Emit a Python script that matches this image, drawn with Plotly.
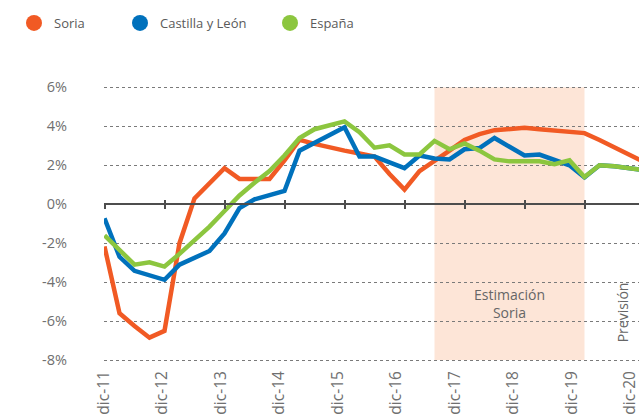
import plotly.graph_objects as go

# Quarterly data, dic-11 .. dic-20 (index 0..36)
quarters = list(range(37))
soria = [-2.17, -5.6, -6.25, -6.85, -6.5, -2.0, 0.3, 1.05, 1.85, 1.3,
         1.3, 1.3, 2.25, 3.3, 3.1, 2.9, 2.75, 2.6, 2.45, 1.55,
         0.75, 1.7, 2.2, 2.75, 3.3, 3.6, 3.8, 3.88, 3.92, 3.85,
         3.78, 3.72, 3.65, 3.3, 2.9, 2.55, 2.15]
castilla = [-0.72, -2.7, -3.42, -3.65, -3.88, -3.1, -2.75, -2.4, -1.5, -0.2,
            0.25, 0.45, 0.68, 2.75, 3.15, 3.55, 3.95, 2.45, 2.45, 2.15,
            1.85, 2.5, 2.35, 2.3, 2.82, 2.88, 3.4, 2.95, 2.5, 2.55,
            2.3, 2.0, 1.38, 2.0, 1.95, 1.85, 1.75]
espana = [-1.6, -2.35, -3.1, -2.98, -3.2, -2.55, -1.85, -1.15, -0.35, 0.45,
          1.1, 1.7, 2.5, 3.4, 3.85, 4.05, 4.25, 3.7, 2.9, 3.02,
          2.55, 2.55, 3.25, 2.82, 3.12, 2.75, 2.3, 2.2, 2.2, 2.2,
          2.05, 2.25, 1.4, 2.0, 1.95, 1.85, 1.75]

tick_pos = list(range(0, 37, 4))
tick_labels = ["dic-11", "dic-12", "dic-13", "dic-14", "dic-15",
               "dic-16", "dic-17", "dic-18", "dic-19", "dic-20"]
y_ticks = [-8, -6, -4, -2, 0, 2, 4, 6]
y_labels = [f"{v}%" for v in y_ticks]

names = ["Soria", "Castilla y León", "España"]
colors = ["#F15A24", "#0071BC", "#8CC63F"]
series = [soria, castilla, espana]

shade_start, shade_end = 22, 32

FONT = "Open Sans"
GRAY = "#707070"

W, H = 639, 419
L, R, T, B = 104, 0, 85, 57
plot_w = W - L - R
px_per_q = 15.0
XA = -0.5 / px_per_q
XB = XA + plot_w / px_per_q
YT, YB = 6.12, -8.10
zero_pos = (0 - YB) / (YT - YB)

# label axis: dic-11 at 104px, dic-20 at ~630px
lab_px = (630 - 104) / 36.0
LA = 0.0
LB = plot_w / lab_px

fig = go.Figure()
for name, col, ys in zip(names, colors, series):
    fig.add_trace(go.Scatter(x=quarters, y=ys, mode="lines", name=name,
                             line=dict(color=col, width=4.5), showlegend=False,
                             hoverinfo="skip"))

legends = ["legend", "legend2", "legend3"]
xaxes_for_dummy = ["x2", "x3", "x2"]
for name, col, lg, xa in zip(names, colors, legends, xaxes_for_dummy):
    fig.add_trace(go.Scatter(x=[None], y=[None], mode="markers", name=name,
                             marker=dict(color=col, size=16, symbol="circle"),
                             legend=lg, xaxis=xa, showlegend=True))

fig.add_shape(type="rect", xref="x", yref="y", x0=shade_start, x1=shade_end,
              y0=-8, y1=6, fillcolor="#FDE5D7", line=dict(width=0), layer="below")

fig.add_annotation(x=27, y=-5.1, xref="x", yref="y", text="Estimación<br>Soria",
                   showarrow=False, font=dict(family=FONT, size=14, color="#666666"))
fig.add_annotation(x=34.5, y=-5.55, xref="x", yref="y", text="Previsión",
                   textangle=-90, showarrow=False,
                   font=dict(family=FONT, size=14, color="#666666"))

leg_common = dict(xref="container", yref="container", xanchor="left", yanchor="middle",
                  orientation="h", bgcolor="rgba(0,0,0,0)", borderwidth=0,
                  font=dict(family=FONT, size=13, color="#5a5a5a"), itemsizing="trace")
leg_x = [14, 120, 270]
leg_y = 1 - 23 / H
fig.update_layout(
    legend=dict(x=leg_x[0] / W, y=leg_y, **leg_common),
    legend2=dict(x=leg_x[1] / W, y=leg_y, **leg_common),
    legend3=dict(x=leg_x[2] / W, y=leg_y, **leg_common),
)

fig.update_layout(
    width=W, height=H,
    margin=dict(l=L, r=R, t=T, b=B, pad=0, autoexpand=False),
    paper_bgcolor="white", plot_bgcolor="white",
    font=dict(family=FONT, color=GRAY),
    xaxis=dict(range=[XA, XB], anchor="free", position=zero_pos, side="bottom",
               showline=True, linecolor="#4d4d4d", linewidth=1.5,
               ticks="outside", ticklen=4, tickwidth=1.5, tickcolor="#4d4d4d",
               tickvals=list(range(0, 33, 4)), showticklabels=False,
               showgrid=False, zeroline=False, automargin=False),
    xaxis3=dict(range=[XA, XB], overlaying="x", anchor="free", position=zero_pos,
                side="bottom", showline=False, ticks="inside", ticklen=4,
                tickwidth=1.5, tickcolor="#4d4d4d", tickvals=list(range(0, 33, 4)),
                showticklabels=False, showgrid=False, zeroline=False, automargin=False),
    xaxis2=dict(range=[LA, LB], overlaying="x", anchor="free", position=0,
                side="bottom", showline=False, ticks="", tickvals=tick_pos,
                ticktext=tick_labels, tickangle=-90, ticklabeloverflow="allow",
                ticklabelstandoff=5,
                tickfont=dict(family=FONT, size=15.5, color=GRAY),
                showgrid=False, zeroline=False, automargin=False),
    yaxis=dict(range=[YB, YT], tickvals=y_ticks, ticktext=y_labels,
               tickfont=dict(family=FONT, size=14.5, color=GRAY),
               showgrid=True, griddash="dot", gridcolor="#7a7a7a", gridwidth=1,
               zeroline=False, showline=False, ticks="", ticklabelstandoff=36,
               automargin=False),
)

fig.write_html("out.html", config={"displayModeBar": False},
               post_script="document.body.style.margin='0px';document.body.style.padding='0px';")
